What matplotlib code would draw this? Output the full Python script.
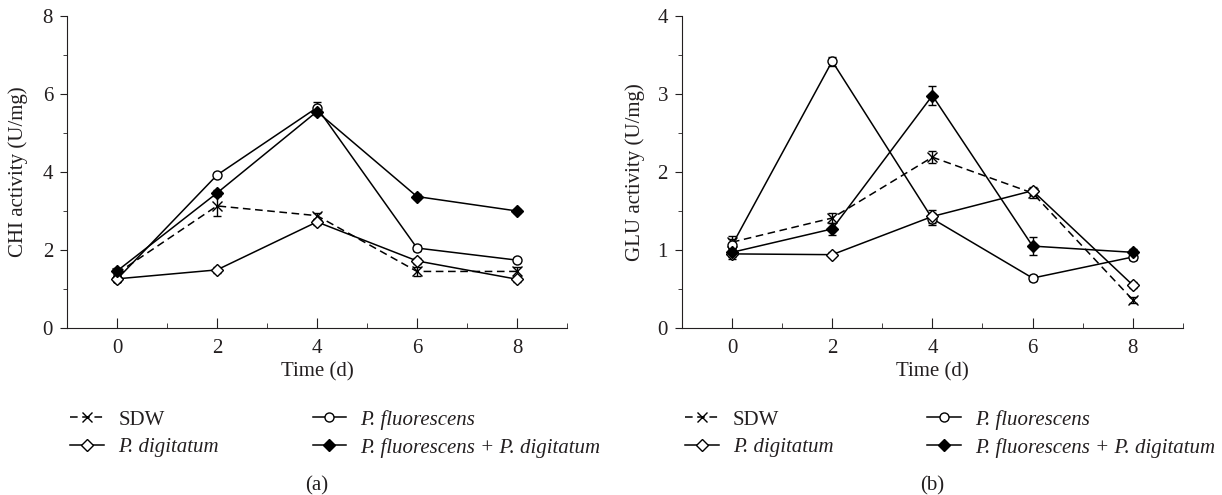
"""CHI and GLU activity over time"""

import matplotlib
matplotlib.use("Agg")
import matplotlib.pyplot as plt
from matplotlib.ticker import MultipleLocator

# Data
days = [0, 2, 4, 6, 8]
series = ["SDW", "P. fluorescens", "P. digitatum", "P. fluorescens + P. digitatum"]

chi_sdw = [1.40, 3.13, 2.88, 1.45, 1.45]
chi_sdw_err = [0.05, 0.25, 0.08, 0.12, 0.12]
chi_pf = [1.25, 3.92, 5.65, 2.05, 1.74]
chi_pf_err = [0.05, 0.06, 0.15, 0.08, 0.06]
chi_pd = [1.26, 1.49, 2.72, 1.72, 1.25]
chi_pd_err = [0.08, 0.08, 0.08, 0.08, 0.08]
chi_pfpd = [1.46, 3.46, 5.55, 3.37, 3.00]
chi_pfpd_err = [0.08, 0.08, 0.10, 0.06, 0.05]

glu_sdw = [1.10, 1.41, 2.19, 1.73, 0.36]
glu_sdw_err = [0.08, 0.06, 0.08, 0.06, 0.04]
glu_pf = [1.06, 3.42, 1.40, 0.64, 0.91]
glu_pf_err = [0.08, 0.06, 0.08, 0.04, 0.04]
glu_pd = [0.95, 0.94, 1.43, 1.76, 0.55]
glu_pd_err = [0.06, 0.03, 0.08, 0.05, 0.04]
glu_pfpd = [0.97, 1.27, 2.98, 1.05, 0.97]
glu_pfpd_err = [0.06, 0.08, 0.12, 0.12, 0.04]

INK = "#231f20"
plt.rcParams.update({
    "font.family": ["Liberation Serif", "DejaVu Serif"],
    "font.size": 15,
    "text.color": INK,
    "axes.labelcolor": INK,
    "xtick.color": INK,
    "ytick.color": INK,
    "axes.edgecolor": INK,
})

styles = [
    dict(ls=(0, (5, 3)), marker="x", mfc="none", ms=7.5),
    dict(ls="-", marker="o", mfc="white", ms=6.5),
    dict(ls="-", marker="D", mfc="white", ms=6),
    dict(ls="-", marker="D", mfc="black", ms=6.5),
]
italic = [False, True, True, True]


def draw_panel(ax, vals, errs, ymax, ylabel, tag, ylab_x):
    handles = []
    for v, e, st in zip(vals, errs, styles):
        h = ax.errorbar(days, v, yerr=e, color="black", lw=1.1, mew=1.0,
                        capsize=3, elinewidth=1.0, **st)
        handles.append(h[0])
    ax.set_xlim(-1, 9)
    ax.set_ylim(0, ymax)
    ax.spines["top"].set_visible(False)
    ax.spines["right"].set_visible(False)
    ax.xaxis.set_major_locator(MultipleLocator(2))
    ax.xaxis.set_minor_locator(MultipleLocator(1))
    ax.yaxis.set_major_locator(MultipleLocator(ymax / 4))
    ax.yaxis.set_minor_locator(MultipleLocator(ymax / 8))
    ax.tick_params(axis="x", which="major", direction="in", length=7, pad=8)
    ax.tick_params(axis="x", which="minor", direction="in", length=3.5)
    ax.tick_params(axis="y", which="major", direction="out", length=5, pad=5)
    ax.tick_params(axis="y", which="minor", direction="out", length=3)
    ax.set_xlabel("Time (d)", labelpad=3)
    ax.set_ylabel(ylabel)
    ax.yaxis.set_label_coords(ylab_x, 0.5)
    order = [0, 2, 1, 3]
    leg = ax.legend([handles[i] for i in order], [series[i] for i in order],
                    ncol=2, loc="upper left", bbox_to_anchor=(-0.01, -0.235),
                    frameon=False, handlelength=1.6, handletextpad=0.7,
                    columnspacing=4.5, labelspacing=0.4, borderaxespad=0)
    for txt, i in zip(leg.get_texts(), order):
        if italic[i]:
            txt.set_fontstyle("italic")
    ax.text(0.5, -0.505, tag, transform=ax.transAxes, ha="center", va="center")
    return leg


fig = plt.figure(figsize=(12.22, 4.95), dpi=100)
ax1 = fig.add_axes([0.0548, 0.3374, 0.4092, 0.6303])
ax2 = fig.add_axes([0.558, 0.3374, 0.410, 0.6303])

draw_panel(ax1, [chi_sdw, chi_pf, chi_pd, chi_pfpd],
           [chi_sdw_err, chi_pf_err, chi_pd_err, chi_pfpd_err],
           8, "CHI activity (U/mg)", "(a)", -0.078)
draw_panel(ax2, [glu_sdw, glu_pf, glu_pd, glu_pfpd],
           [glu_sdw_err, glu_pf_err, glu_pd_err, glu_pfpd_err],
           4, "GLU activity (U/mg)", "(b)", -0.074)

fig.savefig("out.png", dpi=100)
